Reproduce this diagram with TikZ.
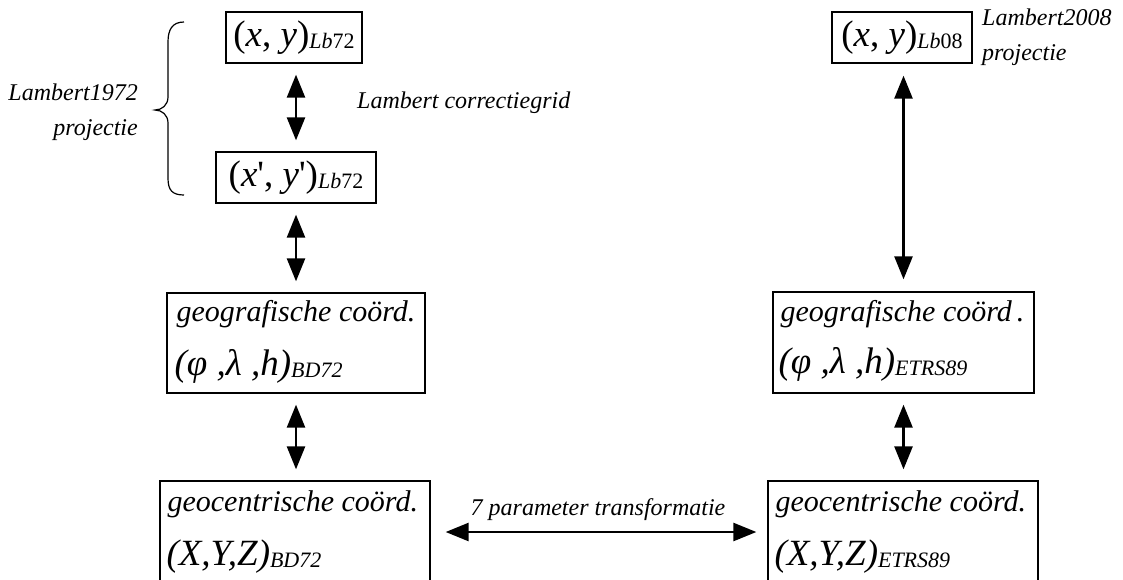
\documentclass[tikz,border=0pt]{standalone}
\usepackage{fontspec}
\setmainfont{Liberation Serif}
\usetikzlibrary{arrows.meta,calc}

% coordinate text helpers
\newcommand{\mth}[1]{{\fontsize{37}{40}\selectfont #1}}
\newcommand{\subtag}[2]{\raisebox{-2.5pt}{\fontsize{22}{24}\selectfont\textit{#1}#2}}
\newcommand{\prm}{\textquotesingle}

\tikzset{
  box/.style={draw, line width=1.3pt, inner sep=0pt},
  dbl/.style={{Triangle[length=23pt,width=18pt]}-{Triangle[length=23pt,width=18pt]},
              line width=2.5pt, shorten <=11pt, shorten >=11pt},
  lbl/.style={font=\fontsize{24}{35}\selectfont\itshape, inner sep=0pt},
  txt/.style={font=\fontsize{30}{34}\selectfont\itshape, inner sep=0pt, anchor=west},
}

\begin{document}
\begin{tikzpicture}[x=1pt,y=-1pt]
\useasboundingbox (0,0) rectangle (1123,579);
\fill[white] (0,0) rectangle (1123,579);
\clip (0,0) rectangle (1123,579);

% left column: Lambert 1972 / BD72
\node[box, minimum width=136pt, minimum height=51pt] (b1) at (294,37.5)
  {\mth{(\textit{x}, \textit{y})}\subtag{Lb}{72}};
\node[box, minimum width=160pt, minimum height=51pt] (b2) at (296,177.5)
  {\mth{(\textit{x}\prm, \textit{y}\prm)}\subtag{Lb}{72}};
\node[box, minimum width=258pt, minimum height=100pt] (b3) at (296,343) {};
\node[txt] (b3a) at ($(b3.north west)+(10,22)$) {geografische coörd.};
\node[txt] (b3b) at ($(b3.north west)+(8,74)$)
  {\mth{(\textit{φ} ,\textit{λ} ,\textit{h})}\subtag{BD}{72}};
\node[box, minimum width=270pt, minimum height=140pt] (b4) at (295,551) {};
\node[txt] (b4a) at ($(b4.north west)+(8,24)$) {geocentrische coörd.};
\node[txt] (b4b) at ($(b4.north west)+(7,76)$)
  {\mth{(\textit{X},\textit{Y},\textit{Z})}\subtag{BD}{72}};

% right column: Lambert 2008 / ETRS89
\node[box, minimum width=140pt, minimum height=51pt] (r1) at (902,37.5)
  {\mth{(\textit{x}, \textit{y})}\subtag{Lb}{08}};
\node[box, minimum width=261pt, minimum height=101pt] (r3) at (903.5,342.5) {};
\node[txt] (r3a) at ($(r3.north west)+(8,23)$) {geografische coörd\,.};
\node[txt] (r3b) at ($(r3.north west)+(6,73)$)
  {\mth{(\textit{φ} ,\textit{λ} ,\textit{h})}\subtag{ETRS}{89}};
\node[box, minimum width=270pt, minimum height=140pt] (r4) at (903,551) {};
\node[txt] (r4a) at ($(r4.north west)+(8,24)$) {geocentrische coörd.};
\node[txt] (r4b) at ($(r4.north west)+(7,76)$)
  {\mth{(\textit{X},\textit{Y},\textit{Z})}\subtag{ETRS}{89}};

% labels
\node[lbl, anchor=east, align=right] (l72) at (138,112.5) {Lambert1972\\projectie};
\node[lbl, anchor=west, align=left] (l08) at (982,37.5) {Lambert2008\\projectie};
\node[lbl, anchor=west] (lcg) at (357,103) {Lambert correctiegrid};
\node[lbl] (l7p) at (598,510) {7 parameter transformatie};

% brace grouping the Lambert 1972 coordinates
\draw[line width=1.2pt] (184,22) .. controls (172,22) and (168,30) .. (168,42)
  -- (168,97) .. controls (168,105) and (162,110) .. (155,110)
  .. controls (162,110) and (168,115) .. (168,123)
  -- (168,178) .. controls (168,190) and (172,195) .. (184,195);

% conversions
\draw[dbl] (b2.north) -- (b2.north |- b1.south);
\draw[dbl] (b2.south) -- (b2.south |- b3.north);
\draw[dbl] (b3.south) -- (b3.south |- b4.north);
\draw[dbl, shorten <=12pt, shorten >=12pt] (r3.north) -- (r3.north |- r1.south);
\draw[dbl] (r3.south) -- (r3.south |- r4.north);
\coordinate (hy) at (600,532);
\draw[dbl, shorten <=15pt] (b4.east |- hy) -- (r4.west |- hy);
\end{tikzpicture}
\end{document}
